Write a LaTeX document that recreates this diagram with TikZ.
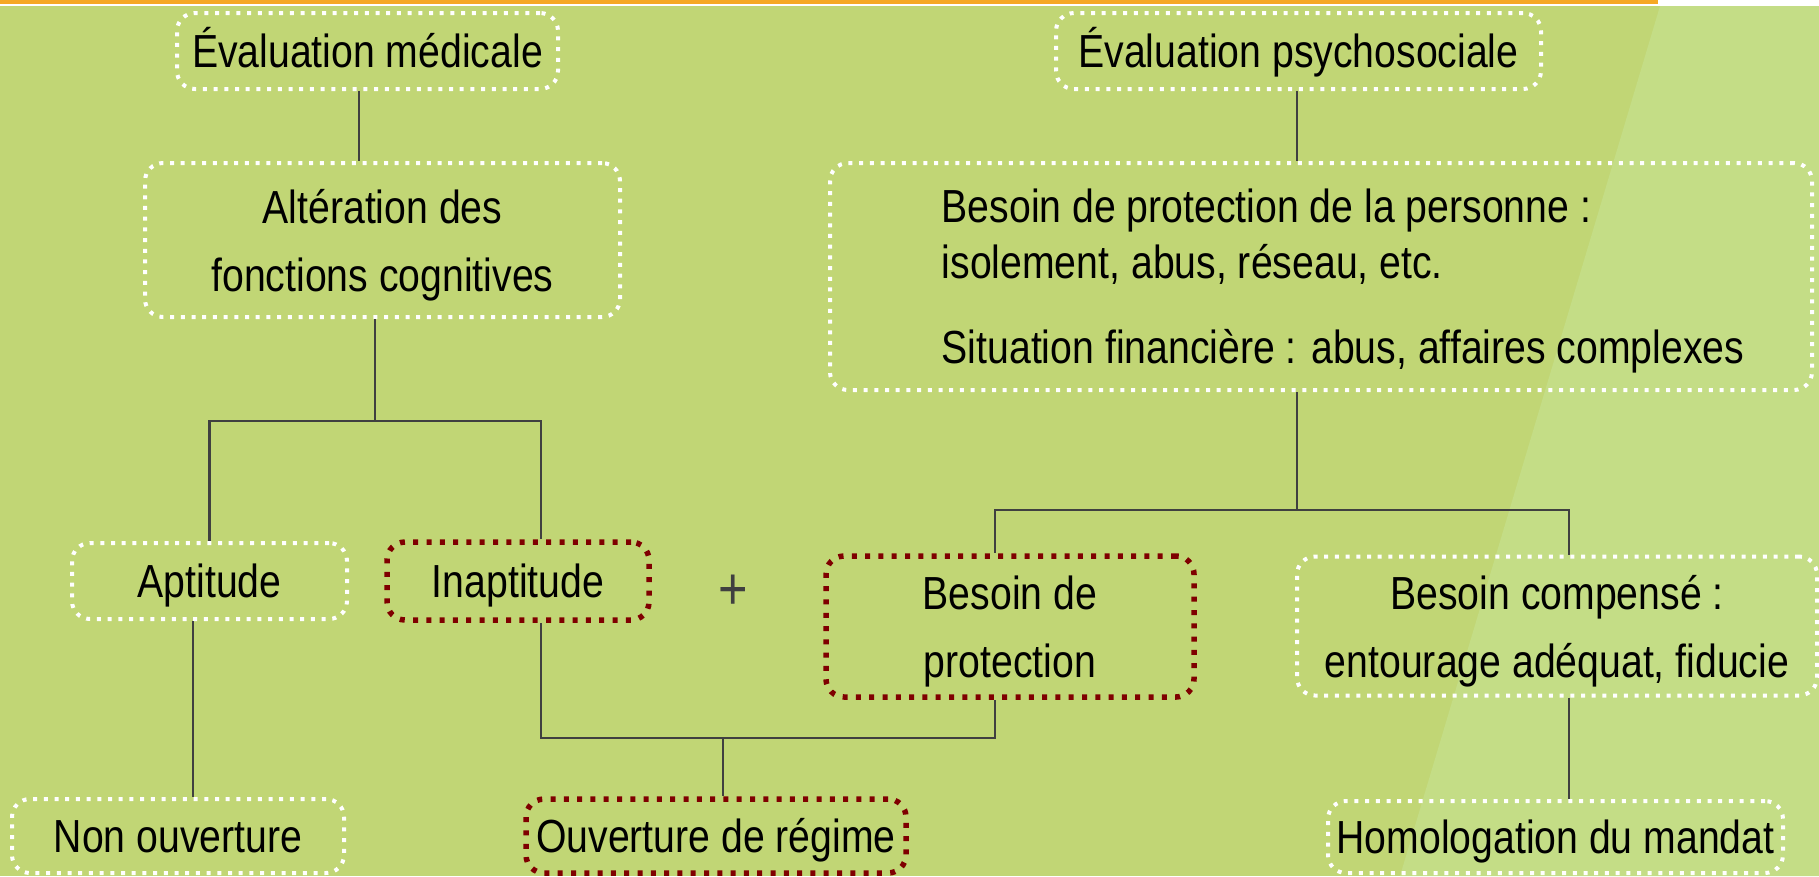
\documentclass[tikz,border=0pt]{standalone}
\usepackage{fontspec}
\setmainfont{Liberation Sans}[FakeStretch=0.845]
\definecolor{bgdark}{HTML}{C1D675}
\definecolor{bglight}{HTML}{C4DD86}
\definecolor{topline}{HTML}{F6A823}
\definecolor{darkred}{HTML}{7F0000}
\definecolor{linegray}{HTML}{404040}
\begin{document}
\begin{tikzpicture}[x=0.1mm,y=-0.1mm,
    wbox/.style={draw=white, line width=0.4mm, dash pattern=on 0.4mm off 0.67mm,
      rounded corners=1.8mm, inner sep=0pt, align=center,
      font=\fontsize{13.2}{19.3}\selectfont},
    rbox/.style={wbox, draw=darkred, line width=0.55mm, dash pattern=on 0.5mm off 0.83mm},
    oneline/.style={text height=9.45pt, text depth=0pt},
    twoline/.style={text depth=0pt},
    conn/.style={draw=linegray, line width=0.6pt}]
  % background
  \fill[bgdark] (0,0) rectangle (1819,876);
  \fill[bglight] (1660,6) -- (1819,6) -- (1819,876) -- (1400,876) -- cycle;
  \fill[white] (0,0) rectangle (1819,6);
  \fill[topline] (0,0) rectangle (1658,3.5);

  \node (evm) at (367.5,51) [wbox, oneline, minimum width=38.1mm, minimum height=7.6mm] {Évaluation médicale};
  \node (evp) at (1298.5,51) [wbox, oneline, minimum width=48.5mm, minimum height=7.6mm] {Évaluation psychosociale};
  \node (alt) at (382.5,240) [wbox, twoline, minimum width=47.5mm, minimum height=15.4mm] {Altération des\\fonctions cognitives};
  \node (bes) at (1321,276.5) [wbox, minimum width=98.2mm, minimum height=22.7mm] {};
  \node (bestxt) at (941,280.7) [anchor=west, align=left, inner sep=0pt, font=\fontsize{13.2}{15.9}\selectfont]
    {Besoin de protection de la personne :\\isolement, abus, réseau, etc.\\[8.3pt]Situation financière : abus, affaires complexes};

  \node (apt) at (209.5,581) [wbox, oneline, minimum width=27.5mm, minimum height=7.6mm] {Aptitude};
  \node (inap) at (518,581) [rbox, oneline, minimum width=26.2mm, minimum height=7.8mm] {Inaptitude};
  \node (plus) at (733,592) [text=linegray, font=\fontsize{17}{20}\selectfont] {+};
  \node (prot) at (1010,626.5) [rbox, twoline, minimum width=36.8mm, minimum height=14.1mm] {Besoin de\\protection};
  \node (comp) at (1557,626) [wbox, twoline, minimum width=52mm, minimum height=13.9mm] {Besoin compensé :\\entourage adéquat, fiducie};

  \node (nonouv) at (178,836) [wbox, oneline, minimum width=33.2mm, minimum height=7.4mm] {Non ouverture};
  \node (ouv) at (716,836) [rbox, oneline, minimum width=38mm, minimum height=7.4mm] {Ouverture de régime};
  \node (hom) at (1555.5,837) [wbox, oneline, minimum width=45.5mm, minimum height=7.2mm] {Homologation du mandat};

  % where the connectors run
  \coordinate (xevm) at (359,0);
  \coordinate (xevp) at (1297,0);
  \coordinate (xalt) at (375,0);
  \coordinate (xinap) at (541,0);
  \coordinate (xprot) at (995,0);
  \coordinate (xcomp) at (1569,0);
  \coordinate (xapt) at (193,0);
  \coordinate (xouv) at (723,0);
  \coordinate (ybus1) at (0,421);
  \coordinate (ybus2) at (0,510);
  \coordinate (ybus3) at (0,738);

  \draw[conn] (evm.south -| xevm) -- (alt.north -| xevm);
  \draw[conn] (evp.south -| xevp) -- (bes.north -| xevp);
  \draw[conn] (alt.south -| xalt) -- (xalt |- ybus1) -| (apt.north);
  \draw[conn] (xalt |- ybus1) -| (inap.north -| xinap);
  \draw[conn] (bes.south -| xevp) -- (xevp |- ybus2) -| (prot.north -| xprot);
  \draw[conn] (xevp |- ybus2) -| (comp.north -| xcomp);
  \draw[conn] (inap.south -| xinap) -- (xinap |- ybus3) -- (xprot |- ybus3) -- (prot.south -| xprot);
  \draw[conn] (xouv |- ybus3) -- (ouv.north -| xouv);
  \draw[conn] (apt.south -| xapt) -- (nonouv.north -| xapt);
  \draw[conn] (comp.south -| xcomp) -- (hom.north -| xcomp);
\end{tikzpicture}
\end{document}
